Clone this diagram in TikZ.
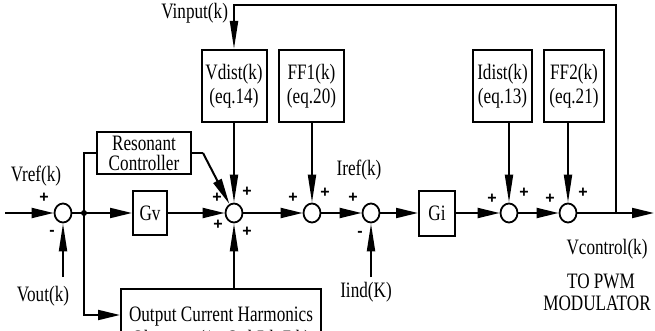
\documentclass[tikz,border=0pt]{standalone}
\usepackage{fontspec}
\setmainfont{Liberation Serif}[FakeStretch=0.78]
\newfontfamily\plusfont{Liberation Sans}
\usetikzlibrary{arrows.meta,shapes.geometric,calc}
\begin{document}
\begin{tikzpicture}[x=1pt,y=-1pt,line width=2pt,
  txt/.style={font=\fontsize{22}{24}\selectfont, inner sep=0pt},
  blk/.style={draw, line width=2pt, inner sep=0pt, align=center, font=\fontsize{22}{24}\selectfont},
  sumn/.style={draw, ellipse, minimum width=17pt, minimum height=19pt, inner sep=0pt, line width=1.8pt},
  harr/.style={-{Triangle[length=22pt,width=10pt]}},
  varr/.style={-{Triangle[length=28pt,width=8pt]}},
  darr/.style={-{Triangle[length=26pt,width=9pt]}},
  sgn/.style={font=\plusfont\bfseries\fontsize{16}{16}\selectfont, inner sep=0pt}]
\useasboundingbox (0,0) rectangle (655,331);
% summing junctions and blocks
\node[sumn] (s1) at (63,213) {};
\coordinate (j) at (84,213);
\fill (j) circle (3pt);
\node[blk, minimum width=34pt, minimum height=44pt] (gv) at (150,213) {Gv};
\node[sumn] (s2) at (234,213) {};
\node[sumn] (s3) at (312,213) {};
\node[sumn] (s4) at (371,213) {};
\node[blk, minimum width=36pt, minimum height=45pt] (gi) at (437,213) {Gi};
\node[sumn] (s5) at (509,213) {};
\node[sumn] (s6) at (568,213) {};
\coordinate (out) at (616,213);
\coordinate (end) at (654,213);
\coordinate (in) at (5,213);
\coordinate (tp) at (616,5);
\coordinate (vo) at (63,277);
\coordinate (ii) at (371,277);
\coordinate (rc) at (203,153);
\node[blk, minimum width=65pt, minimum height=72pt] (vd) at (234,86) {Vdist(k)\\(eq.14)};
\node[blk, minimum width=65pt, minimum height=72pt] (ff1) at (311.5,86) {FF1(k)\\(eq.20)};
\node[blk, minimum width=59pt, minimum height=72pt] (id) at (502.5,86) {Idist(k)\\(eq.13)};
\node[blk, minimum width=60pt, minimum height=72pt] (ff2) at (574,86) {FF2(k)\\(eq.21)};
\node[blk, minimum width=94pt, minimum height=42pt, font=\fontsize{22}{20}\selectfont] (res) at (144,153) {Resonant\\Controller};
\node[blk, minimum width=200pt, minimum height=80pt, anchor=north] (obs) at (221,288) {Output Current Harmonics\\Observer (1st,3rd,5th,7th)};
% connectors
\draw[harr] (in) -- (s1);
\draw (s1) -- (j);
\draw[harr] (j) -- (gv);
\draw[harr] (gv) -- (s2);
\draw[harr] (s2) -- (s3);
\draw[harr] (s3) -- (s4);
\draw[harr] (s4) -- (gi);
\draw[harr] (gi) -- (s5);
\draw[harr] (s5) -- (s6);
\draw[harr] (s6) -- (end);
\draw[varr] (out) -- (tp) -| (vd.north);
\draw[varr] (vd) -- (s2);
\draw[varr] (ff1.south -| s3) -- (s3);
\draw[varr] (id.south -| s5) -- (s5);
\draw[varr] (ff2.south -| s6) -- (s6);
\draw[varr] (vo) -- (s1);
\draw[varr] (ii) -- (s4);
\draw[varr] (obs.north -| s2) -- (s2);
\draw (j) |- (res.west);
\draw (res.east) -- (rc);
\draw[darr] (rc) -- (s2);
\draw[harr] (j) |- ($(obs.north west)+(0,27)$);
% labels
\node[txt] (lvref) at (36,176) {Vref(k)};
\node[txt] (lvout) at (43,296) {Vout(k)};
\node[txt, anchor=east] (lvin) at (229,13) {Vinput(k)};
\node[txt] (liref) at (359,170) {Iref(k)};
\node[txt] (liind) at (366,292) {Iind(K)};
\node[txt] (lvc) at (607,249) {Vcontrol(k)};
\node[txt] (lto) at (601,281) {TO PWM};
\node[txt] (lmod) at (597,303) {MODULATOR};
% signs
\node[sgn] (p1a) at (44,198) {+};
\node[sgn] (m1) at (52,233) {-};
\node[sgn] (p2a) at (217,198) {+};
\node[sgn] (p2b) at (247,192) {+};
\node[sgn] (p2c) at (218,225) {+};
\node[sgn] (p2d) at (247,232) {+};
\node[sgn] (p3a) at (293,198) {+};
\node[sgn] (p3b) at (325,193) {+};
\node[sgn] (p4a) at (353,198) {+};
\node[sgn] (m4) at (360,234) {-};
\node[sgn] (p5a) at (492,199) {+};
\node[sgn] (p5b) at (524,193) {+};
\node[sgn] (p6a) at (550,199) {+};
\node[sgn] (p6b) at (583,193) {+};
\end{tikzpicture}
\end{document}
